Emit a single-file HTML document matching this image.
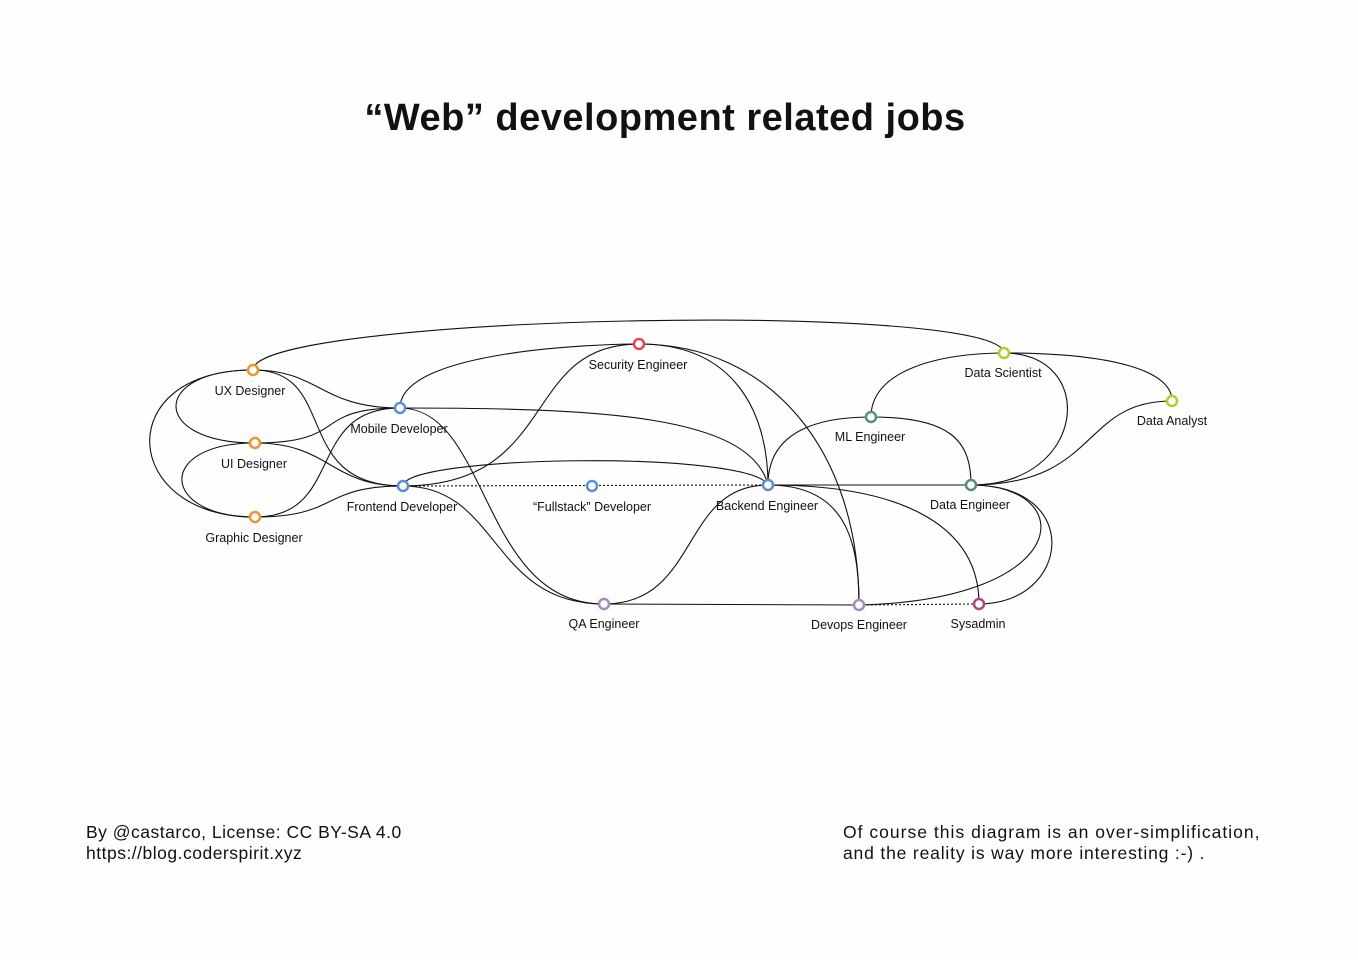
<!DOCTYPE html>
<html><head><meta charset="utf-8"><style>
html,body{margin:0;padding:0;background:#fff;}
svg{display:block;}
text{font-family:"Liberation Sans",sans-serif;fill:#111;}
</style></head><body>
<svg width="1358" height="960" viewBox="0 0 1358 960" xmlns="http://www.w3.org/2000/svg">
<rect width="1358" height="960" fill="#fefefe"/>
<text x="665" y="130" font-size="38" font-weight="bold" text-anchor="middle" letter-spacing="0.5">“Web” development related jobs</text>
<g fill="none" stroke="#111" stroke-width="1.1">
<path d="M253,370 C253,315 1000,300 1004,353"/>
<path d="M253,370 C150,370 150,443 255,443"/>
<path d="M253,370 C110,370 120,517 255,517"/>
<path d="M255,443 C155,443 160,517 255,517"/>
<path d="M253,370 C320,370 320,408 400,408"/>
<path d="M253,370 C340,370 290,486 403,486"/>
<path d="M255,443 C350,443 310,408 400,408"/>
<path d="M255,443 C330,443 330,486 403,486"/>
<path d="M255,517 C345,517 305,408 400,408"/>
<path d="M255,517 C340,517 320,486 403,486"/>
<path d="M400,408 C400,350 600,344 639,344"/>
<path d="M400,408 C600,408 750,415 768,485"/>
<path d="M400,408 C490,408 480,604 604,604"/>
<path d="M403,486 C560,486 520,344 639,344"/>
<path d="M403,486 C403,455 750,450 768,485"/>
<path d="M403,486 C500,486 490,604 604,604"/>
<path d="M639,344 C740,344 768,420 768,485"/>
<path d="M639,344 C770,344 859,450 859,605"/>
<path d="M768,485 C680,485 700,604 604,604"/>
<path d="M604,604 L859,605"/>
<path d="M768,485 C768,430 820,417 871,417"/>
<path d="M768,485 L971,485"/>
<path d="M768,485 C845,485 859,540 859,605"/>
<path d="M768,485 C910,485 979,530 979,604"/>
<path d="M871,417 C871,370 940,353 1004,353"/>
<path d="M871,417 C950,417 971,440 971,485"/>
<path d="M1004,353 C1098,353 1088,485 971,485"/>
<path d="M1004,353 C1110,353 1172,370 1172,401"/>
<path d="M1172,401 C1080,401 1100,485 971,485"/>
<path d="M971,485 C1080,485 1075,600 859,605"/>
<path d="M971,485 C1085,485 1070,604 979,604"/>
<path d="M403,486 L768,485" stroke-dasharray="2,2"/>
<path d="M859,605 L979,604" stroke-dasharray="2,2"/>
</g>
<g stroke-width="2.5" fill="#fff">
<circle cx="253" cy="370" r="5" stroke="#f0922e"/>
<circle cx="255" cy="443" r="5" stroke="#f0922e"/>
<circle cx="255" cy="517" r="5" stroke="#f0922e"/>
<circle cx="400" cy="408" r="5" stroke="#5b8dd6"/>
<circle cx="403" cy="486" r="5" stroke="#5b8dd6"/>
<circle cx="592" cy="486" r="5" stroke="#5b8dd6"/>
<circle cx="768" cy="485" r="5" stroke="#5b8dd6"/>
<circle cx="639" cy="344" r="5" stroke="#e8454a"/>
<circle cx="871" cy="417" r="5" stroke="#4f9479"/>
<circle cx="971" cy="485" r="5" stroke="#4f9479"/>
<circle cx="1004" cy="353" r="5" stroke="#a6d12c"/>
<circle cx="1172" cy="401" r="5" stroke="#a6d12c"/>
<circle cx="604" cy="604" r="5" stroke="#a78ac0"/>
<circle cx="859" cy="605" r="5" stroke="#a78ac0"/>
<circle cx="979" cy="604" r="5" stroke="#b0448a"/>
</g>
<g font-size="12.5" text-anchor="middle">
<text x="250" y="395">UX Designer</text>
<text x="254" y="468">UI Designer</text>
<text x="254" y="542">Graphic Designer</text>
<text x="399" y="433">Mobile Developer</text>
<text x="402" y="511">Frontend Developer</text>
<text x="592" y="511">“Fullstack” Developer</text>
<text x="767" y="510">Backend Engineer</text>
<text x="638" y="369">Security Engineer</text>
<text x="870" y="441">ML Engineer</text>
<text x="1003" y="377">Data Scientist</text>
<text x="1172" y="425">Data Analyst</text>
<text x="970" y="509">Data Engineer</text>
<text x="604" y="628">QA Engineer</text>
<text x="859" y="629">Devops Engineer</text>
<text x="978" y="628">Sysadmin</text>
</g>
<g font-size="17.5" letter-spacing="0.5">
<text x="86" y="838">By @castarco, License: CC BY-SA 4.0</text>
<text x="86" y="859">https://blog.coderspirit.xyz</text>
<text x="843" y="838" textLength="417">Of course this diagram is an over-simplification,</text>
<text x="843" y="859" textLength="362">and the reality is way more interesting :-) .</text>
</g>
</svg>
</body></html>
